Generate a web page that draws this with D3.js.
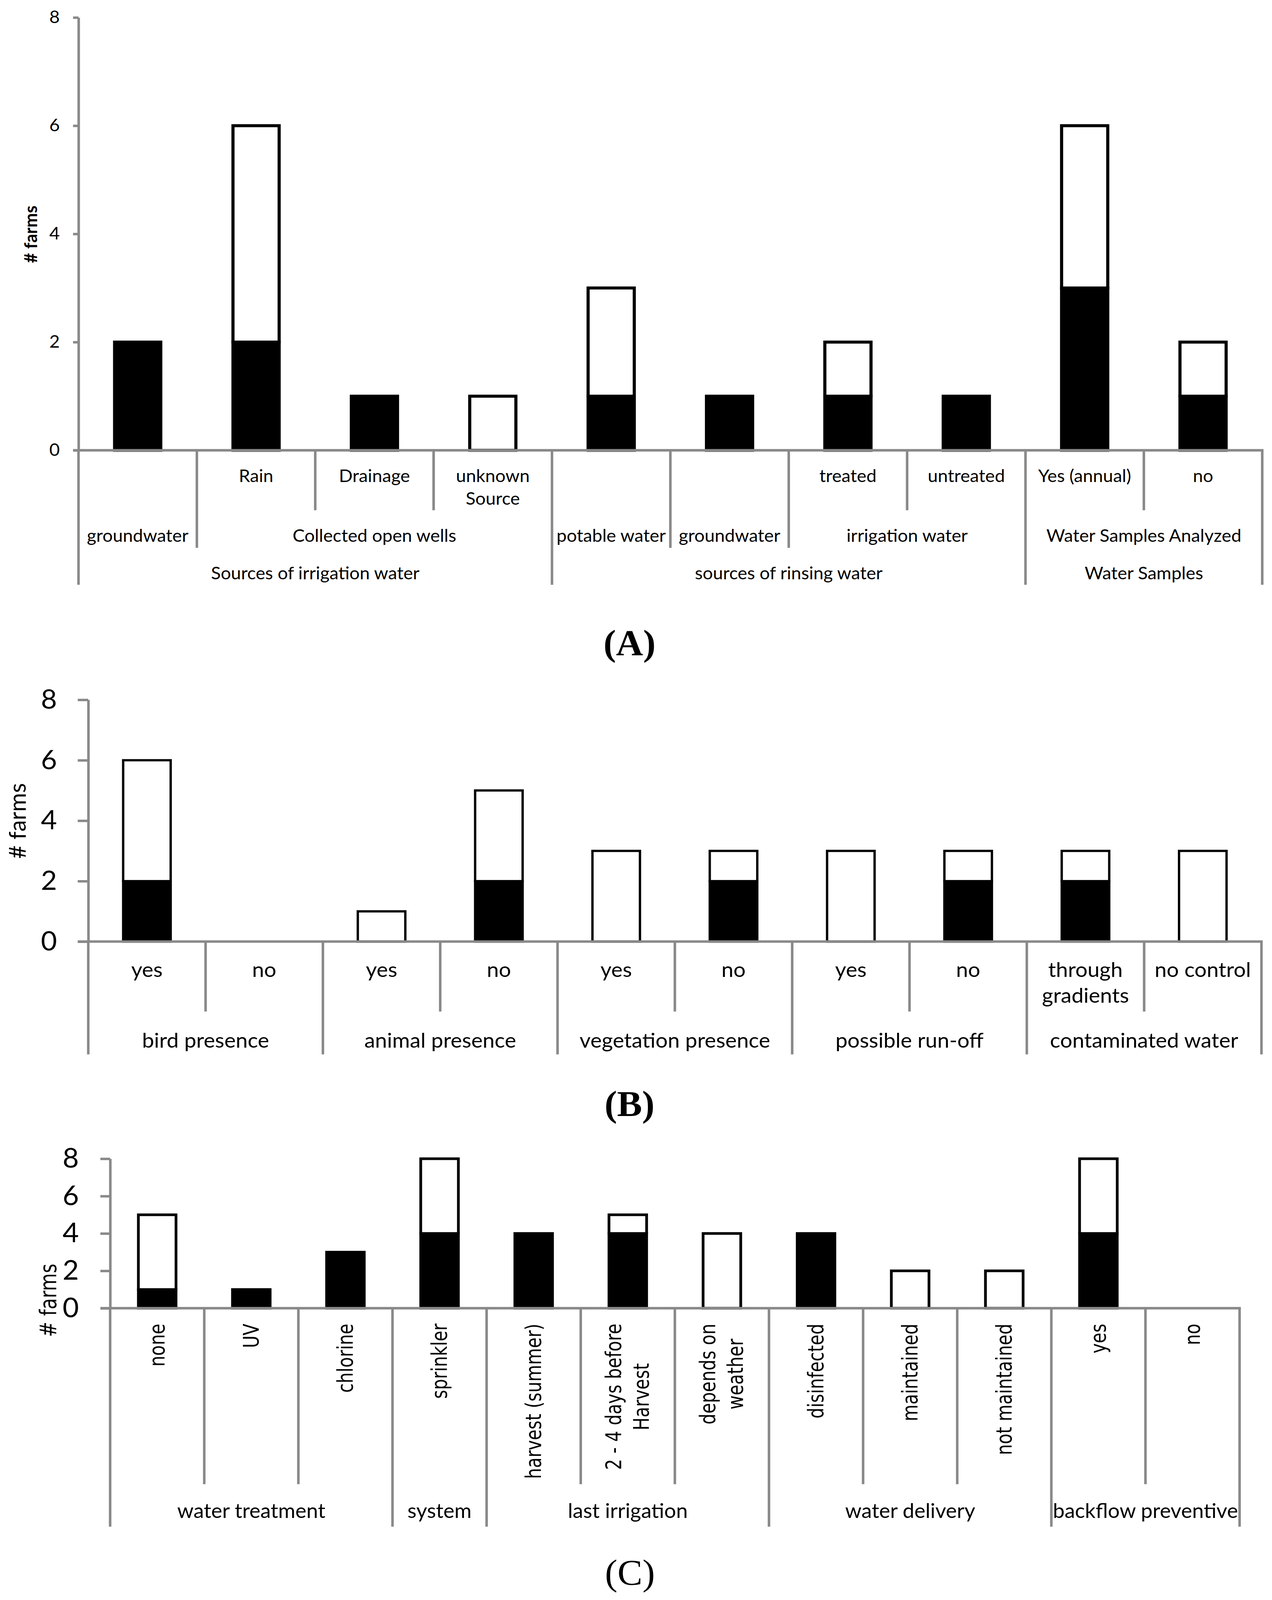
<!DOCTYPE html>
<html><head><meta charset="utf-8">
<script src="https://cdn.jsdelivr.net/npm/d3@7"></script>
<style>html,body{margin:0;padding:0;background:#fff;overflow:hidden;width:100%;height:100%}svg{display:block;width:100vw;height:100vh}</style>
</head><body>
<svg id="chart" viewBox="0 0 3257 4255" preserveAspectRatio="none" xmlns="http://www.w3.org/2000/svg"></svg>
<script>
// ---------------- DATA ----------------
const yTicks = [0, 2, 4, 6, 8];

const aLevel1 = ["", "Rain", "Drainage", "unknown\nSource", "", "", "treated", "untreated", "Yes (annual)", "no"];
const aBlack  = [2, 2, 1, 0, 1, 1, 1, 1, 3, 1];
const aWhite  = [0, 4, 0, 1, 2, 0, 1, 0, 3, 1];
const aLevel2 = [["groundwater", 1], ["Collected open wells", 3], ["potable water", 1], ["groundwater", 1], ["irrigation water", 2], ["Water Samples Analyzed", 2]];
const aLevel3 = [["Sources of irrigation water", 4], ["sources of rinsing water", 4], ["Water Samples", 2]];

const bLevel1 = ["yes", "no", "yes", "no", "yes", "no", "yes", "no", "through\ngradients", "no control"];
const bBlack  = [2, 0, 0, 2, 0, 2, 0, 2, 2, 0];
const bWhite  = [4, 0, 1, 3, 3, 1, 3, 1, 1, 3];
const bLevel2 = [["bird presence", 2], ["animal presence", 2], ["vegetation presence", 2], ["possible run-off", 2], ["contaminated water", 2]];

const cLevel1 = ["none", "UV", "chlorine", "sprinkler", "harvest (summer)", "2 - 4 days before\nHarvest", "depends on\nweather", "disinfected", "maintained", "not maintained", "yes", "no"];
const cBlack  = [1, 1, 3, 4, 4, 4, 0, 4, 0, 0, 4, 0];
const cWhite  = [4, 0, 0, 4, 0, 1, 4, 0, 2, 2, 4, 0];
const cLevel2 = [["water treatment", 3], ["system", 1], ["last irrigation", 3], ["water delivery", 3], ["backflow preventive", 2]];

const yTitle = "# farms";
const panelLabels = ["(A)", "(B)", "(C)"];

// ---------------- DRAWING ----------------
const svg = d3.select("#chart");
svg.append("rect").attr("width", 3257).attr("height", 4255).attr("fill", "#fff");
const GRAY = "#898989";
const SANS = "Lato, 'Open Sans', sans-serif";
const WIDE = "'DejaVu Sans', Verdana, sans-serif";

function measure(text, family, weight) {
  const t = svg.append("text").attr("font-family", family).attr("font-weight", weight || "normal")
    .attr("font-size", 100).text(text);
  const w = t.node().getComputedTextLength();
  t.remove();
  return w;
}
function fit(text, family, weight, target) { return 100 * target / measure(text, family, weight); }

function boundaries(groups) {
  const s = new Set(); let c = 0;
  groups.forEach(g => { c += g[1]; s.add(c); });
  return s;
}

function drawPanel(cfg) {
  const n = cfg.level1.length;
  const x = d3.scaleBand().domain(d3.range(n)).range([cfg.x0, cfg.x1]).padding(0);
  const y = d3.scaleLinear().domain([0, 8]).range([cfg.y0, cfg.y8]);
  const g = svg.append("g");
  const bw = x.bandwidth() * cfg.barFrac;

  // bars
  cfg.black.forEach((v, i) => {
    if (v > 0) g.append("rect").attr("x", x(i) + (x.bandwidth() - bw) / 2).attr("y", y(v))
      .attr("width", bw).attr("height", y(0) - y(v))
      .attr("fill", "#000").attr("stroke", "#000").attr("stroke-width", cfg.bs);
  });
  cfg.white.forEach((v, i) => {
    const b = cfg.black[i];
    if (v > 0) g.append("rect").attr("x", x(i) + (x.bandwidth() - bw) / 2).attr("y", y(b + v))
      .attr("width", bw).attr("height", y(b) - y(b + v))
      .attr("fill", "#fff").attr("stroke", "#000").attr("stroke-width", cfg.bs);
  });

  // y axis
  const ya = g.append("g").attr("transform", `translate(${cfg.x0},0)`)
    .call(d3.axisLeft(y).tickValues(yTicks).tickSize(cfg.tickLen).tickSizeOuter(0)
      .tickPadding(cfg.tickPad).tickFormat(d3.format("d")));
  ya.select(".domain").attr("stroke", GRAY).attr("stroke-width", cfg.lw);
  ya.selectAll(".tick line").attr("stroke", GRAY).attr("stroke-width", cfg.lw);
  ya.selectAll(".tick text").attr("font-family", SANS).attr("font-size", cfg.tickSize).attr("fill", "#000");

  // category separators (multi-level)
  const b2 = boundaries(cfg.level2);
  const b3 = cfg.level3 ? boundaries(cfg.level3) : null;
  for (let i = 0; i <= n; i++) {
    const xp = i === n ? cfg.x1 : x(i);
    let end;
    if (i === 0 || i === n) end = cfg.sep.long;
    else if (b3 && b3.has(i)) end = cfg.sep.long;
    else if (b2.has(i)) end = b3 ? cfg.sep.mid : cfg.sep.long;
    else end = cfg.sep.short;
    g.append("line").attr("x1", xp).attr("x2", xp).attr("y1", cfg.y0).attr("y2", end)
      .attr("stroke", GRAY).attr("stroke-width", cfg.lw);
  }

  // x axis line
  const xa = g.append("g").attr("transform", `translate(0,${cfg.y0})`)
    .call(d3.axisBottom(x).tickSize(0).tickSizeOuter(0).tickFormat(""));
  xa.select(".domain").attr("stroke", GRAY).attr("stroke-width", cfg.lw)
    .attr("d", `M${cfg.x0 - cfg.tickLen},0H${cfg.x1 + cfg.lw / 2}`);

  // level-1 labels
  cfg.level1.forEach((lab, i) => {
    if (!lab) return;
    const lines = lab.split("\n");
    const cx = x(i) + x.bandwidth() / 2;
    if (!cfg.rotated) {
      lines.forEach((ln, j) => {
        g.append("text").attr("x", cx).attr("y", cfg.l1y + j * cfg.l1lh)
          .attr("text-anchor", "middle").attr("font-family", SANS).attr("font-size", cfg.labSize)
          .attr("fill", "#000").text(ln);
      });
    } else {
      const maxLen = d3.max(lines, ln => measure(ln, WIDE, "normal")) * cfg.rotSize / 100;
      const cy = cfg.rotTop + maxLen / 2;
      const rg = g.append("g").attr("transform", `translate(${cx},${cy}) rotate(-90) scale(1,${cfg.rotK})`);
      lines.forEach((ln, j) => {
        const off = cfg.rotBase + (j - (lines.length - 1) / 2) * cfg.rotLH;
        rg.append("text").attr("x", 0).attr("y", off / cfg.rotK)
          .attr("text-anchor", "middle").attr("font-family", WIDE).attr("font-size", cfg.rotSize)
          .attr("fill", "#000").text(ln);
      });
    }
  });

  // level-2 / level-3 labels
  function groupLabels(groups, yy) {
    let c = 0;
    groups.forEach(([lab, span]) => {
      const xs = x(c), xe = c + span === n ? cfg.x1 : x(c + span);
      g.append("text").attr("x", (xs + xe) / 2).attr("y", yy).attr("text-anchor", "middle")
        .attr("font-family", SANS).attr("font-size", cfg.labSize).attr("fill", "#000").text(lab);
      c += span;
    });
  }
  groupLabels(cfg.level2, cfg.l2y);
  if (cfg.level3) groupLabels(cfg.level3, cfg.l3y);

  // y title
  const k = cfg.titleK || 1;
  g.append("g").attr("transform", `translate(${cfg.titleX},${cfg.titleY}) rotate(-90) scale(1,${k})`)
    .append("text").attr("x", 0).attr("y", 0).attr("dy", "0.36em").attr("text-anchor", "middle")
    .attr("font-family", cfg.titleFamily).attr("font-weight", cfg.titleWeight)
    .attr("font-size", cfg.titleSize).attr("fill", "#000").text(yTitle);

  // panel label
  svg.append("text").attr("x", cfg.plx).attr("y", cfg.ply).attr("text-anchor", "middle")
    .attr("font-family", "'Liberation Serif', 'Times New Roman', serif").attr("font-weight", cfg.plWeight)
    .attr("font-size", 96).attr("fill", "#000").text(cfg.panelLabel);
}

// Panel A
const fsA = fit("Collected open wells", SANS, "normal", 419);
drawPanel({
  level1: aLevel1, black: aBlack, white: aWhite, level2: aLevel2, level3: aLevel3,
  x0: 201, x1: 3232, y0: 1197.5, y8: 46.5, tickLen: 14, tickPad: 34, tickSize: fsA,
  lw: 6.5, bs: 8, barFrac: 0.39, labSize: fsA,
  l1y: 1282, l1lh: 60, l2y: 1441, l3y: 1541,
  sep: { short: 1357, mid: 1457, long: 1555 },
  titleX: 78, titleY: 623, titleFamily: SANS, titleWeight: "bold",
  titleSize: fit(yTitle, SANS, "bold", 153),
  plx: 1612, ply: 1742, plWeight: "bold", panelLabel: panelLabels[0]
});

// Panel B
const fsB = fit("contaminated water", SANS, "normal", 482);
drawPanel({
  level1: bLevel1, black: bBlack, white: bWhite, level2: bLevel2, level3: null,
  x0: 226, x1: 3230, y0: 2504, y8: 1861, tickLen: 27, tickPad: 53, tickSize: 71,
  lw: 6.5, bs: 6, barFrac: 0.405, labSize: fsB,
  l1y: 2598, l1lh: 69, l2y: 2786,
  sep: { short: 2690, long: 2804 },
  titleX: 44, titleY: 2183, titleFamily: SANS, titleWeight: "normal",
  titleSize: fit(yTitle, SANS, "normal", 201),
  plx: 1612, ply: 2968, plWeight: "bold", panelLabel: panelLabels[1]
});

// Panel C
const fsC = fit("last irrigation", SANS, "normal", 307);
drawPanel({
  level1: cLevel1, black: cBlack, white: cWhite, level2: cLevel2, level3: null,
  x0: 282, x1: 3174, y0: 3479, y8: 3081.5, tickLen: 25, tickPad: 55, tickSize: 72,
  lw: 6.5, bs: 7, barFrac: 0.40, labSize: fsC,
  rotated: true, rotTop: 3520, rotSize: fit("harvest (summer)", WIDE, "normal", 413),
  rotK: 1.2, rotBase: 18, rotLH: 71,
  l2y: 4037,
  sep: { short: 3947, long: 4060 },
  titleX: 123, titleY: 3458, titleFamily: WIDE, titleWeight: "normal", titleK: 1.2,
  titleSize: fit(yTitle, WIDE, "normal", 195),
  plx: 1613, ply: 4215, plWeight: "normal", panelLabel: panelLabels[2]
});
</script>
</body></html>
